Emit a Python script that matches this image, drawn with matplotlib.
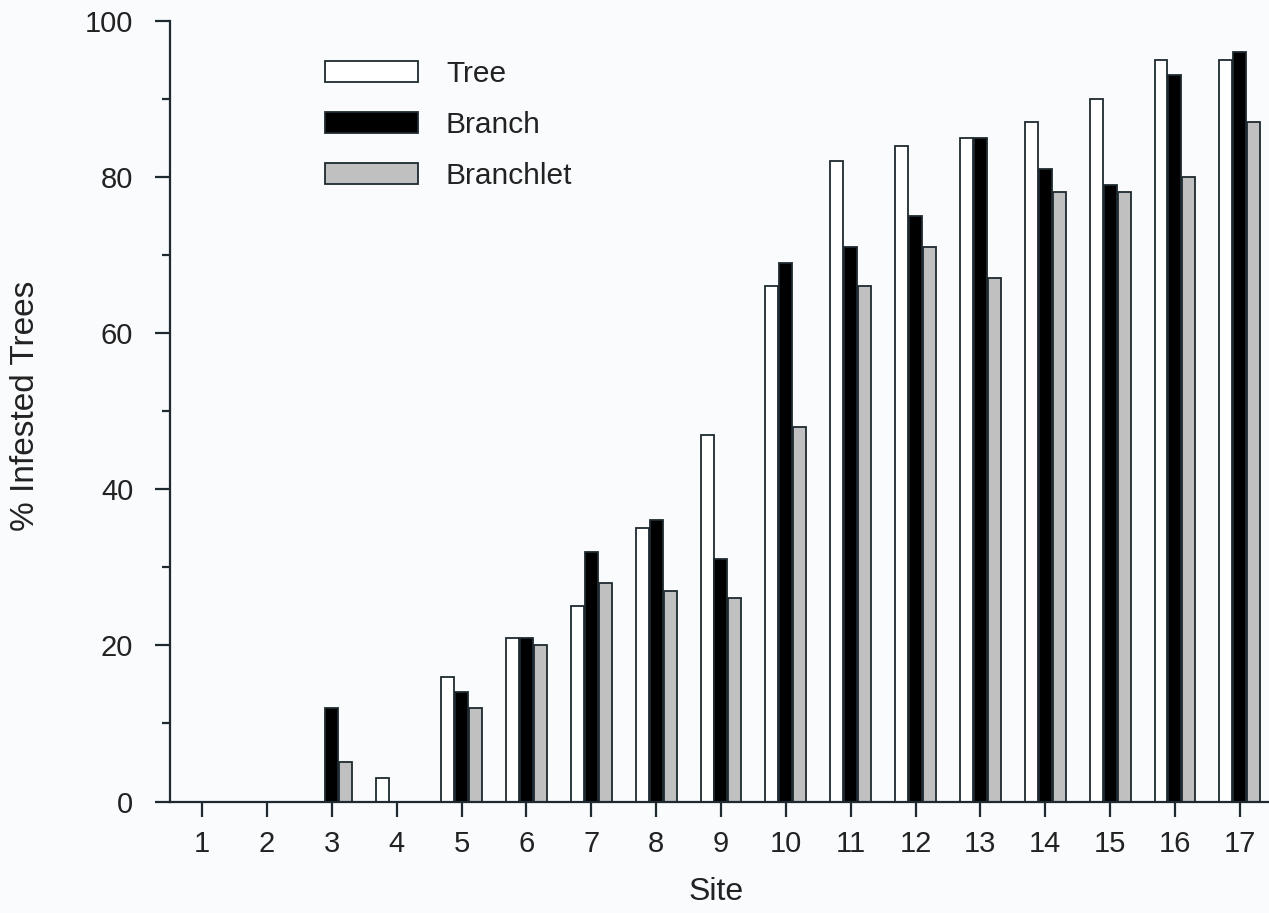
import numpy as np
import matplotlib
matplotlib.use('Agg')
import matplotlib.pyplot as plt

plt.rcParams['font.family'] = ['Liberation Sans', 'DejaVu Sans']

# 数据
sites = np.arange(1, 18)
tree = [0, 0, 0, 3, 16, 21, 25, 35, 47, 66, 82, 84, 85, 87, 90, 95, 95]
branch = [0, 0, 12, 0, 14, 21, 32, 36, 31, 69, 71, 75, 85, 81, 79, 93, 96]
branchlet = [0, 0, 5, 0, 12, 20, 28, 27, 26, 48, 66, 71, 67, 78, 78, 80, 87]

edge = '#1e2a30'
txt = '#222222'
bg = '#fafbfd'

fig = plt.figure(figsize=(12.69, 9.13), dpi=100, facecolor=bg)
ax = fig.add_axes([170 / 1269, 1 - 801.5 / 913, 1099 / 1269, 780.8 / 913])
ax.set_facecolor(bg)

w = 0.2
off = 0.215
ax.bar(sites - off, tree, w, color='white', edgecolor=edge, linewidth=1.3, label='Tree')
ax.bar(sites, branch, w, color='black', edgecolor=edge, linewidth=1.3, label='Branch')
ax.bar(sites + off, branchlet, w, color='#c0c0c0', edgecolor=edge, linewidth=1.3, label='Branchlet')

ax.set_xlim(0.505, 17.45)
ax.set_ylim(0, 100)
ax.set_xticks(sites)
ax.set_yticks(range(0, 101, 20))
ax.set_yticks(range(10, 100, 20), minor=True)

for s in ['top', 'right']:
    ax.spines[s].set_visible(False)
for s in ['left', 'bottom']:
    ax.spines[s].set_color(edge)
    ax.spines[s].set_linewidth(1.6)

ax.tick_params(axis='both', which='major', direction='out', length=10.5, width=1.6,
               color=edge, labelsize=21, labelcolor=txt)
ax.tick_params(axis='y', which='major', pad=16)
ax.tick_params(axis='x', which='major', pad=10)
ax.tick_params(axis='y', which='minor', direction='out', length=5.5, width=1.6, color=edge)

ax.set_xlabel('Site', fontsize=23, color=txt)
ax.set_ylabel('% Infested Trees', fontsize=24, color=txt)
ax.xaxis.set_label_coords(0.4968, -0.097)
ax.yaxis.set_label_coords(-0.117, 0.5065)

leg = ax.legend(loc='upper left', bbox_to_anchor=(0.141, 0.9495), frameon=False,
                fontsize=21.5, handlelength=3.1, handleheight=0.7, handletextpad=0.95,
                labelspacing=0.77, borderpad=0, borderaxespad=0)
for t in leg.get_texts():
    t.set_color(txt)

fig.savefig('out.png', dpi=100, facecolor=bg)
